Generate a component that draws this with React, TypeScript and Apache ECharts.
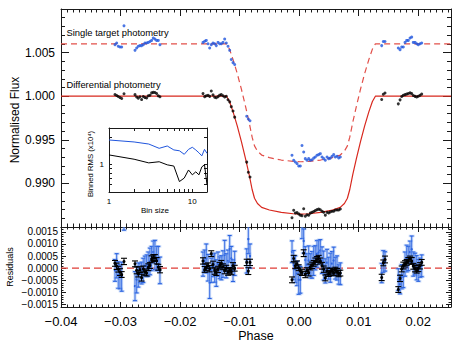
import React, { useEffect, useRef } from 'react';
import * as echarts from 'echarts';

// ---- transit model curves (phase, flux) ----
const modelPhase = [-0.04, -0.0122, -0.0117, -0.0111, -0.0104, -0.0097, -0.009, -0.0084, -0.0079, -0.0075, -0.007, -0.0063, -0.005, -0.003, -0.001, 0.0003, 0.0016, 0.0036, 0.0056, 0.0069, 0.0076, 0.0081, 0.0085, 0.009, 0.0096, 0.0103, 0.011, 0.0117, 0.0123, 0.0128, 0.0255];
const diffModel = [1.0, 1.0, 0.9994, 0.9982, 0.9966, 0.9948, 0.9928, 0.991, 0.9893, 0.9883, 0.9877, 0.98725, 0.98695, 0.98668, 0.98652, 0.98648, 0.98652, 0.98668, 0.98695, 0.98725, 0.9877, 0.9883, 0.9893, 0.991, 0.9928, 0.9948, 0.9966, 0.9982, 0.9994, 1.0, 1.0];
const singleModel = [1.006, 1.006, 1.0054, 1.0042, 1.0026, 1.0008, 0.9988, 0.997, 0.9953, 0.9943, 0.9937, 0.99325, 0.99295, 0.99268, 0.99252, 0.99248, 0.99252, 0.99268, 0.99295, 0.99325, 0.9937, 0.9943, 0.9953, 0.997, 0.9988, 1.0008, 1.0026, 1.0042, 1.0054, 1.006, 1.006];

// ---- observations ----
const phase = [
  -0.03093, -0.03065, -0.03038, -0.03009, -0.02981, -0.02942,
  -0.02757, -0.02729, -0.02702, -0.02674, -0.02646, -0.02618, -0.0259, -0.02562, -0.02534, -0.02506, -0.02478, -0.0245, -0.02422, -0.02394, -0.02366, -0.02338,
  -0.01615, -0.01587, -0.0156, -0.01531, -0.01503, -0.01476, -0.01447, -0.01419, -0.01392, -0.01363, -0.01335, -0.01308, -0.01279, -0.01251, -0.01224, -0.01195, -0.01167, -0.0114, -0.01111, -0.01083,
  -0.00881, -0.00854, -0.00826,
  -0.0012, -0.00092, -0.00065, -0.00036, -0.00008, 0.00019, 0.00048, 0.00076, 0.00103, 0.00132, 0.0016, 0.00187, 0.00216, 0.00244, 0.00271, 0.003, 0.00328, 0.00355, 0.00384, 0.00412, 0.00439, 0.00468, 0.00496, 0.00523, 0.00552, 0.0058, 0.00607, 0.00636, 0.00664, 0.00691,
  0.01386, 0.01413, 0.01442, 0.01665, 0.01694, 0.01722, 0.01749, 0.01778, 0.01806, 0.01833, 0.01862, 0.0189, 0.01917, 0.01946, 0.01974, 0.02001, 0.0203, 0.02058,
];
const diffFlux = [
  1.0002, 1.00008, 0.99996, 0.99984, 0.99974, 1.00028,
  1.00018, 0.99991, 0.99977, 0.99994, 0.99961, 0.99997, 0.99984, 0.9998, 1.00004, 1.00011, 1.00038, 1.00044, 1.00042, 1.00031, 1.00004, 0.99994,
  1.0003, 0.99995, 1.00004, 1.0001, 0.99998, 1.0006, 1.00015, 0.99988, 0.99982, 0.99995, 1.00012, 1.00018, 1.00006, 0.9999, 1.0, 0.9996, 0.99935, 0.9988, 0.9983, 0.9976,
  0.99244, 0.99128, 0.99074,
  0.98606, 0.98692, 0.9866, 0.98665, 0.9865, 0.98636, 0.9863, 0.9871, 0.98623, 0.9864, 0.98634, 0.98659, 0.98668, 0.98678, 0.98688, 0.98699, 0.98705, 0.98698, 0.9868, 0.98669, 0.98636, 0.98668, 0.98662, 0.98673, 0.9868, 0.9868, 0.98695, 0.98695, 0.98696, 0.98706,
  0.99962, 1.00022, 1.00036, 0.99912, 0.99958, 0.99997, 1.00011, 1.00018, 1.00024, 1.00031, 1.00038, 1.0003, 1.00008, 0.99998, 0.99992, 1.0, 1.0001, 1.00024,
];
const singleFlux = [
  1.00591, 1.0061, 1.00572, 1.00565, 1.00565, 1.00807,
  1.00526, 1.00553, 1.00572, 1.0058, 1.0058, 1.00591, 1.0061, 1.0061, 1.00617, 1.00628, 1.0064, 1.00667, 1.00655, 1.0064, 1.0064, 1.00591,
  1.00617, 1.0063, 1.0064, 1.00602, 1.00553, 1.00591, 1.0061, 1.00602, 1.0058, 1.00617, 1.00602, 1.00602, 1.00617, 1.00655, 1.0061, 1.00572, 1.00526, 1.0042, 1.00385, 1.00364,
  0.9977, 0.99739, 0.99719,
  0.99322, 0.99265, 0.99246, 0.99227, 0.992, 0.992, 0.99435, 0.9936, 0.99284, 0.99265, 0.99284, 0.99265, 0.9927, 0.9929, 0.99303, 0.99322, 0.9933, 0.99341, 0.99303, 0.99284, 0.99265, 0.99303, 0.99284, 0.9929, 0.99311, 0.9933, 0.99303, 0.99311, 0.99292, 0.99303,
  1.0058, 1.00628, 1.00628, 1.00553, 1.00534, 1.00565, 1.00565, 1.00617, 1.0064, 1.0064, 1.00667, 1.00678, 1.00617, 1.00617, 1.00602, 1.00591, 1.00602, 1.0061,
];
const diffRes = [
  0.0002, 0.00008, -0.00004, -0.00016, -0.00026, 0.00028,
  0.00018, -0.00009, -0.00023, -0.00006, -0.00039, -0.00003, -0.00016, -0.0002, 0.00004, 0.00011, 0.00038, 0.00044, 0.00042, 0.00031, 0.00004, -0.00006,
  0.0003, -0.00005, 0.00004, 0.0001, -0.00002, 0.0006, 0.00015, -0.00012, -0.00018, -0.00005, 0.00012, 0.00018, 0.00006, -0.0001, 0.0, -0.00015, -0.0001, -0.00015, 0.0001, 0.0,
  0.00024, -0.00012, 0.00024,
  -0.00048, 0.0004, 0.0001, 0.00016, 0.00002, -0.00012, -0.00018, 0.00062, -0.00026, -0.0001, -0.00018, 0.00005, 0.00012, 0.0002, 0.00028, 0.00036, 0.0004, 0.0003, 0.0001, -0.00004, -0.0004, -0.00012, -0.00022, -0.00015, -0.00012, -0.00018, -0.00008, -0.00015, -0.00022, -0.0002,
  -0.00038, 0.00022, 0.00036, -0.00088, -0.00042, -0.00003, 0.00011, 0.00018, 0.00024, 0.00031, 0.00038, 0.0003, 0.00008, -0.00002, -0.00008, 0.0, 0.0001, 0.00024,
];
const diffErr = [
  0.00012, 0.00013, 0.00012, 0.00014, 0.00012, 0.00013,
  0.00012, 0.00014, 0.00013, 0.00012, 0.00014, 0.00012, 0.00013, 0.00012, 0.00014, 0.00012, 0.00013, 0.00012, 0.00014, 0.00013, 0.00012, 0.00013,
  0.00013, 0.00012, 0.00014, 0.00012, 0.00013, 0.00012, 0.00014, 0.00013, 0.00012, 0.00013, 0.00012, 0.00014, 0.00012, 0.00013, 0.00012, 0.00014, 0.00013, 0.00012, 0.00013, 0.00012,
  0.00013, 0.00014, 0.00013,
  0.00012, 0.00013, 0.00012, 0.00014, 0.00012, 0.00013, 0.00012, 0.00014, 0.00013, 0.00012, 0.00014, 0.00012, 0.00013, 0.00012, 0.00014, 0.00012, 0.00013, 0.00012, 0.00014, 0.00013, 0.00012, 0.00013, 0.00012, 0.00014, 0.00012, 0.00013, 0.00012, 0.00014, 0.00013, 0.00012,
  0.00013, 0.00012, 0.00014, 0.00012, 0.00013, 0.00012, 0.00014, 0.00013, 0.00012, 0.00013, 0.00012, 0.00014, 0.00012, 0.00013, 0.00012, 0.00014, 0.00013, 0.00012,
];
const singleRes = [
  -0.00009, 0.0001, -0.00028, -0.00035, -0.00035, 0.00207,
  -0.00074, -0.00047, -0.00028, -0.0002, -0.0002, -0.00009, 0.0001, 0.0001, 0.00017, 0.00028, 0.0004, 0.00067, 0.00055, 0.0004, 0.0004, -0.00009,
  0.00017, 0.0003, 0.0004, 0.00002, -0.0006, -0.00009, 0.0001, 0.00002, -0.0002, 0.00017, 0.00002, 0.00002, 0.00017, 0.00055, 0.0001, 0.0003, 0.0008, 0.0004, -0.0001, 0.0002,
  0.0003, 0.0012, 0.0005,
  0.00068, 0.00013, -0.00004, -0.00022, -0.00048, -0.00048, 0.00187, 0.00112, 0.00034, 0.00015, 0.00032, 0.0001, 0.00014, 0.0003, 0.00043, 0.00059, 0.00065, 0.00073, 0.00033, 0.00011, -0.00011, 0.00023, 0.0, 0.00002, 0.00019, 0.00032, 0.0, 0.00001, -0.00026, -0.00023,
  -0.0002, 0.00028, 0.00028, -0.00047, -0.00066, -0.00035, -0.00035, 0.00017, 0.0004, 0.0004, 0.00067, 0.00078, 0.00017, 0.00017, 0.00002, -0.00009, 0.00002, 0.0001,
];
const singleErr = [
  0.00045, 0.0005, 0.00055, 0.0005, 0.0006, 0.0005,
  0.0006, 0.00055, 0.0005, 0.0004, 0.00045, 0.0005, 0.0004, 0.00045, 0.0005, 0.00055, 0.0005, 0.00045, 0.0006, 0.0005, 0.0005, 0.00055,
  0.0005, 0.00045, 0.0006, 0.00055, 0.00065, 0.0005, 0.00045, 0.0006, 0.00055, 0.0005, 0.00045, 0.0005, 0.00055, 0.0006, 0.0005, 0.00045, 0.00055, 0.0005, 0.00045, 0.0005,
  0.0005, 0.0006, 0.0005,
  0.00045, 0.0006, 0.00055, 0.0005, 0.0006, 0.00055, 0.00065, 0.0005, 0.00055, 0.00045, 0.0006, 0.0005, 0.00055, 0.0006, 0.0005, 0.00055, 0.0005, 0.00045, 0.00055, 0.0006, 0.0005, 0.00055, 0.00045, 0.0006, 0.0005, 0.00055, 0.00045, 0.0005, 0.0004, 0.00045,
  0.0004, 0.00045, 0.0004, 0.00045, 0.0004, 0.0005, 0.00045, 0.0005, 0.00055, 0.0005, 0.00045, 0.00055, 0.0005, 0.00045, 0.0005, 0.00045, 0.0004, 0.00045,
];

// ---- inset: binned RMS (x10^4) ----
const binSize = [1, 2, 3, 4, 5, 6, 7, 8, 9, 10, 11, 12, 13, 14, 15];
const rmsSingle = [1.85, 1.76, 1.67, 1.5, 1.59, 1.44, 1.41, 1.29, 1.46, 1.54, 1.44, 1.34, 1.24, 1.46, 1.32];
const rmsDiff = [1.27, 1.14, 1.04, 1.07, 0.99, 0.96, 0.65, 0.71, 0.87, 0.77, 0.83, 0.77, 0.94, 0.99, 0.6];

const resMajor = [-0.0015, -0.001, -0.0005, 0, 0.0005, 0.001, 0.0015];
const insetYTicks = [0.6, 0.7, 0.8, 0.9, 1, 2];
const insetXTicks = [1, 2, 3, 4, 5, 6, 7, 8, 9, 10];

const RES_MIN = -0.0016;
const RES_MAX = 0.0017;
const FONT = '"Liberation Sans", Arial, Helvetica, sans-serif';
const INK = '#1a1a1a';
const BLUE = '#1f55dd';
const RED = '#d8281e';

function fmtSigned(v: number, d: number) {
  const s = Math.abs(v).toFixed(d);
  return v < -1e-12 ? '\u2212' + s : s;
}

function errRender(kind: 'blue' | 'black') {
  return (params: any, api: any) => {
    const x = api.value(0);
    const y = api.value(1);
    const e = api.value(2);
    const lo = y - e;
    const hi = y + e;
    const cl = (v: number) => Math.min(RES_MAX, Math.max(RES_MIN, v));
    const pLo = api.coord([x, cl(lo)]);
    const pHi = api.coord([x, cl(hi)]);
    const pC = api.coord([x, cl(y)]);
    const children: any[] = [];
    const cap = kind === 'blue' ? 2 : 3;
    const col = kind === 'blue' ? '#2a62e0' : '#000';
    if (kind === 'blue') {
      const band = 'rgba(130,170,240,0.4)';
      children.push({ type: 'line', shape: { x1: pLo[0], y1: pLo[1], x2: pHi[0], y2: pHi[1] }, style: { stroke: band, lineWidth: 3 } });
      if (hi <= RES_MAX) children.push({ type: 'line', shape: { x1: pHi[0] - cap - 1, y1: pHi[1], x2: pHi[0] + cap + 1, y2: pHi[1] }, style: { stroke: band, lineWidth: 2.5 } });
      if (lo >= RES_MIN) children.push({ type: 'line', shape: { x1: pLo[0] - cap - 1, y1: pLo[1], x2: pLo[0] + cap + 1, y2: pLo[1] }, style: { stroke: band, lineWidth: 2.5 } });
    }
    children.push({ type: 'line', shape: { x1: pLo[0], y1: pLo[1], x2: pHi[0], y2: pHi[1] }, style: { stroke: col, lineWidth: kind === 'blue' ? 0.9 : 1 } });
    if (hi <= RES_MAX) children.push({ type: 'line', shape: { x1: pHi[0] - cap, y1: pHi[1], x2: pHi[0] + cap, y2: pHi[1] }, style: { stroke: col, lineWidth: 1.1 } });
    if (lo >= RES_MIN) children.push({ type: 'line', shape: { x1: pLo[0] - cap, y1: pLo[1], x2: pLo[0] + cap, y2: pLo[1] }, style: { stroke: col, lineWidth: 1.1 } });
    if (y <= RES_MAX && y >= RES_MIN) {
      children.push({ type: 'circle', shape: { cx: pC[0], cy: pC[1], r: kind === 'blue' ? 1.2 : 1.5 }, style: { fill: col } });
    }
    return { type: 'group', children };
  };
}

const lineStyle = { color: INK, width: 1 };

function phaseAxis(gridIndex: number, position: 'top' | 'bottom', labels: boolean, major: number, minor: number) {
  return {
    type: 'value', gridIndex, position, min: -0.04, max: 0.0255, interval: 0.01,
    axisLine: { show: true, onZero: false, lineStyle },
    axisTick: { show: true, inside: true, length: major, lineStyle },
    minorTick: { show: true, splitNumber: 10, length: minor, lineStyle },
    splitLine: { show: false },
    axisLabel: labels
      ? {
          show: true, margin: 8, color: '#000', fontSize: 13, fontFamily: FONT, showMaxLabel: false,
          formatter: (v: number) => (Math.abs(v * 100 - Math.round(v * 100)) < 1e-6 ? fmtSigned(v, 2) : ''),
        }
      : { show: false },
  };
}

export default function App() {
  const ref = useRef<HTMLDivElement>(null);
  useEffect(() => {
    if (!ref.current) return;
    const chart = echarts.init(ref.current, undefined, { renderer: 'svg' });

    const diffPts = phase.map((p, i) => [p, diffFlux[i]]);
    const singlePts = phase.map((p, i) => [p, singleFlux[i]]);
    const diffResPts = phase.map((p, i) => [p, diffRes[i], diffErr[i]]);
    const singleResPts = phase.map((p, i) => [p, singleRes[i], singleErr[i]]);

    const option: any = {
      animation: false,
      backgroundColor: '#fff',
      textStyle: { fontFamily: FONT },
      grid: [
        { left: 61, top: 9, width: 390, height: 218 },
        { left: 61, top: 227, width: 390, height: 80 },
        { left: 109, top: 128, width: 98, height: 64, show: true, backgroundColor: '#fff', borderWidth: 0, z: 5 },
      ],
      xAxis: [
        phaseAxis(0, 'bottom', false, 7, 3.5),
        phaseAxis(0, 'top', false, 7, 3.5),
        phaseAxis(1, 'bottom', true, 5, 2.5),
        phaseAxis(1, 'top', false, 5, 2.5),
        {
          type: 'log', gridIndex: 2, position: 'bottom', min: 1, max: 15, z: 6,
          axisLine: { show: true, onZero: false, lineStyle },
          axisTick: { show: true, inside: true, length: 3, lineStyle, customValues: insetXTicks },
          splitLine: { show: false },
          axisLabel: { show: true, margin: 5, fontSize: 8, color: '#000', fontFamily: FONT, showMaxLabel: false },
        },
        {
          type: 'log', gridIndex: 2, position: 'top', min: 1, max: 15, z: 6,
          axisLine: { show: true, onZero: false, lineStyle },
          axisTick: { show: true, inside: true, length: 3, lineStyle, customValues: insetXTicks },
          splitLine: { show: false },
          axisLabel: { show: false },
        },
      ],
      yAxis: [
        {
          type: 'value', gridIndex: 0, position: 'left', min: 0.985, max: 1.01, interval: 0.005,
          axisLine: { show: true, onZero: false, lineStyle },
          axisTick: { show: true, inside: true, length: 8, lineStyle },
          minorTick: { show: true, splitNumber: 5, length: 4, lineStyle },
          splitLine: { show: false },
          axisLabel: { show: true, margin: 6, fontSize: 12, color: '#000', fontFamily: FONT, showMinLabel: false, showMaxLabel: false, formatter: (v: number) => v.toFixed(3) },
        },
        {
          type: 'value', gridIndex: 0, position: 'right', min: 0.985, max: 1.01, interval: 0.005,
          axisLine: { show: true, onZero: false, lineStyle },
          axisTick: { show: true, inside: true, length: 8, lineStyle },
          minorTick: { show: true, splitNumber: 5, length: 4, lineStyle },
          splitLine: { show: false },
          axisLabel: { show: false },
        },
        {
          type: 'value', gridIndex: 1, position: 'left', min: RES_MIN, max: RES_MAX,
          axisLine: { show: true, onZero: false, lineStyle },
          axisTick: { show: true, inside: true, length: 5, lineStyle, customValues: resMajor },
          splitLine: { show: false },
          axisLabel: { show: true, margin: 3, fontSize: 10, color: '#000', fontFamily: FONT, customValues: resMajor, formatter: (v: number) => fmtSigned(v, 4) },
        },
        {
          type: 'value', gridIndex: 1, position: 'right', min: RES_MIN, max: RES_MAX,
          axisLine: { show: true, onZero: false, lineStyle },
          axisTick: { show: true, inside: true, length: 5, lineStyle, customValues: resMajor },
          splitLine: { show: false },
          axisLabel: { show: false },
        },
        {
          type: 'value', gridIndex: 1, position: 'left', min: RES_MIN, max: RES_MAX, interval: 0.0001,
          axisLine: { show: false, onZero: false },
          axisTick: { show: true, inside: true, length: 2.5, lineStyle },
          splitLine: { show: false },
          axisLabel: { show: false },
        },
        {
          type: 'value', gridIndex: 1, position: 'right', min: RES_MIN, max: RES_MAX, interval: 0.0001,
          axisLine: { show: false, onZero: false },
          axisTick: { show: true, inside: true, length: 2.5, lineStyle },
          splitLine: { show: false },
          axisLabel: { show: false },
        },
        {
          type: 'log', gridIndex: 2, position: 'left', min: 0.5, max: 2.5, z: 6,
          axisLine: { show: true, onZero: false, lineStyle },
          axisTick: { show: true, inside: true, length: 3, lineStyle, customValues: insetYTicks },
          splitLine: { show: false },
          axisLabel: { show: true, margin: 5, fontSize: 8, color: '#000', fontFamily: FONT, showMinLabel: false, showMaxLabel: false },
        },
        {
          type: 'log', gridIndex: 2, position: 'right', min: 0.5, max: 2.5, z: 6,
          axisLine: { show: true, onZero: false, lineStyle },
          axisTick: { show: true, inside: true, length: 3, lineStyle, customValues: insetYTicks },
          splitLine: { show: false },
          axisLabel: { show: false },
        },
      ],
      series: [
        {
          name: 'single model', type: 'line', xAxisIndex: 0, yAxisIndex: 0, showSymbol: false, symbol: 'none',
          data: modelPhase.map((p, i) => [p, singleModel[i]]),
          lineStyle: { color: '#e2504a', width: 1.2, type: [6, 4] }, z: 2,
        },
        {
          name: 'diff model', type: 'line', xAxisIndex: 0, yAxisIndex: 0, showSymbol: false, symbol: 'none',
          data: modelPhase.map((p, i) => [p, diffModel[i]]),
          lineStyle: { color: RED, width: 1.2 }, z: 2,
        },
        {
          name: 'single', type: 'scatter', xAxisIndex: 0, yAxisIndex: 0, symbol: 'circle', symbolSize: 3,
          data: singlePts, itemStyle: { color: BLUE }, z: 3,
        },
        {
          name: 'diff', type: 'scatter', xAxisIndex: 0, yAxisIndex: 0, symbol: 'circle', symbolSize: 3,
          data: diffPts, itemStyle: { color: '#000' }, z: 3,
        },
        {
          name: 'zero', type: 'line', xAxisIndex: 2, yAxisIndex: 2, showSymbol: false, symbol: 'none',
          data: [[-0.04, 0], [0.0255, 0]],
          lineStyle: { color: '#e03c36', width: 1.2, type: [7, 4] }, z: 2,
        },
        {
          name: 'single res', type: 'custom', xAxisIndex: 2, yAxisIndex: 2,
          renderItem: errRender('blue'), data: singleResPts, encode: { x: 0, y: 1 }, z: 3,
        },
        {
          name: 'diff res', type: 'custom', xAxisIndex: 2, yAxisIndex: 2,
          renderItem: errRender('black'), data: diffResPts, encode: { x: 0, y: 1 }, z: 4,
        },
        {
          name: 'rms single', type: 'line', xAxisIndex: 4, yAxisIndex: 6, showSymbol: false, symbol: 'none',
          data: binSize.map((b, i) => [b, rmsSingle[i]]), lineStyle: { color: BLUE, width: 1 }, z: 7,
        },
        {
          name: 'rms diff', type: 'line', xAxisIndex: 4, yAxisIndex: 6, showSymbol: false, symbol: 'none',
          data: binSize.map((b, i) => [b, rmsDiff[i]]), lineStyle: { color: '#000', width: 1 }, z: 7,
        },
      ],
      graphic: [
        { type: 'text', x: 15, y: 120, rotation: Math.PI / 2, style: { text: 'Normalised Flux', font: `12px ${FONT}`, fill: '#000', align: 'center', verticalAlign: 'middle' } },
        { type: 'text', x: 10, y: 267, rotation: Math.PI / 2, style: { text: 'Residuals', font: `9px ${FONT}`, fill: '#000', align: 'center', verticalAlign: 'middle' } },
        { type: 'text', x: 256, y: 336, style: { text: 'Phase', font: `12.5px ${FONT}`, fill: '#000', align: 'center', verticalAlign: 'middle' } },
        { type: 'text', x: 66.5, y: 32.5, style: { text: 'Single target photometry', font: `9.4px ${FONT}`, fill: '#000', align: 'left', verticalAlign: 'middle' } },
        { type: 'text', x: 66.5, y: 84.5, style: { text: 'Differential photometry', font: `9.4px ${FONT}`, fill: '#000', align: 'left', verticalAlign: 'middle' } },
        { type: 'text', x: 90, y: 164, rotation: Math.PI / 2, z: 10, style: { text: 'Binned RMS (x10\u2074)', font: `7.7px ${FONT}`, fill: '#000', align: 'center', verticalAlign: 'middle' } },
        { type: 'text', x: 155, y: 210, z: 10, style: { text: 'Bin size', font: `8px ${FONT}`, fill: '#000', align: 'center', verticalAlign: 'middle' } },
      ],
    };
    chart.setOption(option);
    return () => chart.dispose();
  }, []);
  return <div ref={ref} style={{ position: 'fixed', left: 0, top: 0, width: 463, height: 348, background: '#fff' }} />;
}
